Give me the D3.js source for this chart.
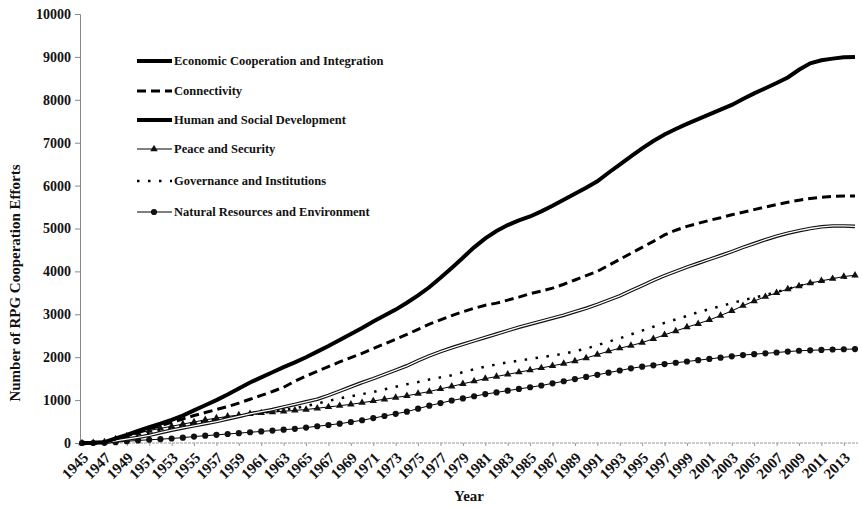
<!DOCTYPE html>
<html>
<head>
<meta charset="utf-8">
<script src="https://cdn.jsdelivr.net/npm/d3@7"></script>
<style>
  body { margin: 0; background: #fff; }
  text { font-family: "Liberation Serif", "Times New Roman", serif; font-weight: bold; fill: #111; }
</style>
</head>
<body>
<svg width="862" height="507"></svg>
<script>
// years 1945 - 2014
var years = d3.range(1945, 2015);
var yTicks = [0, 1000, 2000, 3000, 4000, 5000, 6000, 7000, 8000, 9000, 10000];

var economic = [0, 5, 20, 110, 190, 280, 370, 450, 540, 640,
  760, 880, 1000, 1130, 1270, 1410, 1530, 1650, 1770, 1880,
  2000, 2130, 2260, 2400, 2540, 2680, 2830, 2970, 3110, 3270,
  3440, 3630, 3850, 4080, 4320, 4560, 4770, 4940, 5080, 5190,
  5280, 5400, 5530, 5670, 5810, 5950, 6100, 6300, 6490, 6680,
  6870, 7040, 7190, 7320, 7440, 7550, 7660, 7770, 7880, 8020,
  8150, 8270, 8390, 8520, 8700, 8850, 8920, 8960, 8990, 9000];

var connectivity = [0, 5, 20, 100, 170, 250, 330, 400, 480, 560,
  640, 710, 780, 850, 930, 1020, 1110, 1200, 1300, 1440,
  1560, 1670, 1780, 1890, 1990, 2090, 2200, 2310, 2420, 2530,
  2650, 2770, 2870, 2970, 3060, 3140, 3210, 3260, 3330, 3400,
  3480, 3540, 3610, 3700, 3800, 3900, 4000, 4140, 4280, 4420,
  4560, 4700, 4850, 4960, 5050, 5120, 5190, 5250, 5320, 5380,
  5440, 5500, 5560, 5610, 5660, 5700, 5730, 5750, 5760, 5760];

var human = [0, 5, 15, 50, 90, 130, 180, 240, 300, 350,
  400, 450, 500, 560, 620, 680, 730, 780, 840, 900,
  960, 1020, 1110, 1210, 1310, 1410, 1500, 1600, 1700, 1800,
  1920, 2030, 2130, 2220, 2300, 2380, 2460, 2540, 2620, 2700,
  2770, 2840, 2910, 2980, 3060, 3140, 3230, 3330, 3430, 3550,
  3670, 3790, 3900, 4000, 4100, 4190, 4280, 4370, 4460, 4560,
  4650, 4740, 4820, 4890, 4950, 5000, 5040, 5060, 5060, 5050];

var peace = [0, 5, 20, 90, 160, 230, 290, 340, 390, 440,
  490, 540, 580, 620, 650, 680, 700, 720, 740, 760,
  780, 810, 840, 870, 900, 940, 980, 1020, 1060, 1100,
  1150, 1200, 1260, 1320, 1380, 1440, 1500, 1550, 1600, 1650,
  1700, 1750, 1800, 1850, 1910, 1980, 2060, 2140, 2210, 2270,
  2340, 2430, 2520, 2610, 2700, 2780, 2870, 2970, 3080, 3200,
  3310, 3410, 3500, 3590, 3660, 3730, 3780, 3830, 3880, 3910];

var governance = [0, 5, 15, 60, 120, 180, 240, 300, 360, 410,
  460, 510, 550, 590, 630, 670, 700, 730, 770, 810,
  860, 920, 980, 1040, 1090, 1140, 1190, 1250, 1310, 1370,
  1420, 1480, 1530, 1580, 1650, 1720, 1780, 1830, 1880, 1920,
  1960, 2000, 2040, 2080, 2140, 2200, 2280, 2360, 2440, 2530,
  2620, 2710, 2800, 2880, 2960, 3050, 3120, 3190, 3260, 3330,
  3390, 3450, 3520, 3590, 3660, 3720, 3770, 3820, 3850, 3870];

var natural = [0, 0, 5, 20, 40, 60, 75, 90, 105, 125,
  150, 170, 190, 210, 230, 250, 270, 290, 310, 330,
  360, 390, 420, 450, 490, 530, 580, 630, 680, 730,
  800, 870, 930, 990, 1040, 1090, 1140, 1180, 1220, 1260,
  1300, 1340, 1390, 1440, 1490, 1540, 1590, 1640, 1690, 1740,
  1780, 1810, 1840, 1870, 1900, 1930, 1960, 1990, 2020, 2050,
  2070, 2090, 2110, 2130, 2150, 2160, 2170, 2180, 2185, 2190];

var series = [
  { name: "Economic Cooperation and Integration", values: economic, style: "thick" },
  { name: "Connectivity", values: connectivity, style: "dash" },
  { name: "Human and Social Development", values: human, style: "double" },
  { name: "Peace and Security", values: peace, style: "triangle" },
  { name: "Governance and Institutions", values: governance, style: "dot" },
  { name: "Natural Resources and Environment", values: natural, style: "circle" }
];

var svg = d3.select("svg");
var plotLeft = 80, plotRight = 855, plotTop = 14, plotBottom = 443;

var x = d3.scalePoint().domain(years).range([plotLeft + 2, plotRight]);
var y = d3.scaleLinear().domain([0, 10000]).range([plotBottom, plotTop]);

// y axis
var yAxis = svg.append("g")
  .attr("transform", "translate(" + plotLeft + ",0)")
  .call(d3.axisLeft(y).tickValues(yTicks).tickSize(5).tickPadding(4).tickFormat(d3.format("d")));
yAxis.select(".domain").attr("stroke", "#888");
yAxis.selectAll(".tick line").attr("stroke", "#888");
yAxis.selectAll("text").style("font-size", "14px").attr("font-family", null);

// x axis
var xAxis = svg.append("g")
  .attr("transform", "translate(0," + plotBottom + ")")
  .call(d3.axisBottom(x).tickValues(years.filter(function(d) { return (d - 1945) % 2 == 0; })).tickSize(3).tickSizeOuter(0));
xAxis.select(".domain").attr("stroke", "#999").attr("stroke-dasharray", "3,1").attr("d", "M" + plotLeft + ",0H" + (plotRight + 3));
xAxis.selectAll(".tick line").attr("stroke", "#999");
xAxis.selectAll("text")
  .style("font-size", "15px")
  .attr("font-family", null)
  .attr("text-anchor", "end")
  .attr("y", 0)
  .attr("dy", "0.35em")
  .attr("transform", "translate(3,12) rotate(-45)");

// axis titles
svg.append("text")
  .attr("transform", "translate(20,283) rotate(-90)")
  .attr("text-anchor", "middle")
  .style("font-size", "15px")
  .text("Number of RPG Cooperation Efforts");

svg.append("text")
  .attr("x", 469).attr("y", 501)
  .attr("text-anchor", "middle")
  .style("font-size", "15px")
  .text("Year");

var line = d3.line()
  .x(function(d, i) { return x(years[i]); })
  .y(function(d) { return y(d); });

var triangle = d3.symbol().type(d3.symbolTriangle).size(24);
var circle = d3.symbol().type(d3.symbolCircle).size(30);

function drawSeries(g, s, path) {
  if (s.style == "thick") {
    g.append("path").attr("d", path).attr("fill", "none").attr("stroke", "#000").attr("stroke-width", 4);
  } else if (s.style == "dash") {
    g.append("path").attr("d", path).attr("fill", "none").attr("stroke", "#000").attr("stroke-width", 3).attr("stroke-dasharray", "9,5");
  } else if (s.style == "double") {
    g.append("path").attr("d", path).attr("fill", "none").attr("stroke", "#111").attr("stroke-width", 3.6);
    g.append("path").attr("d", path).attr("fill", "none").attr("stroke", "#fff").attr("stroke-width", 1.3);
  } else if (s.style == "dot") {
    g.append("path").attr("d", path).attr("fill", "none").attr("stroke", "#000").attr("stroke-width", 2.5).attr("stroke-dasharray", "2.5,8.5");
  } else {
    g.append("path").attr("d", path).attr("fill", "none").attr("stroke", "#000").attr("stroke-width", 1);
  }
}

// lines
series.slice().reverse().forEach(function(s) {
  var g = svg.append("g");
  drawSeries(g, s, line(s.values));
  if (s.style == "triangle" || s.style == "circle") {
    g.selectAll("path.mark")
      .data(s.values)
      .enter().append("path")
      .attr("class", "mark")
      .attr("d", s.style == "triangle" ? triangle : circle)
      .attr("transform", function(d, i) { return "translate(" + x(years[i]) + "," + y(d) + ")"; })
      .attr("fill", "#111");
  }
});

// legend
var legendY = [61, 91, 120, 149, 181, 212];
series.forEach(function(s, i) {
  var g = svg.append("g").attr("transform", "translate(137," + legendY[i] + ")");
  var st = s.style == "double" ? "thick" : s.style;
  drawSeries(g, { style: st }, "M0,0H35");
  if (s.style == "triangle") g.append("path").attr("d", triangle).attr("transform", "translate(17,0)").attr("fill", "#111");
  if (s.style == "circle") g.append("path").attr("d", circle).attr("transform", "translate(17,0)").attr("fill", "#111");
  g.append("text").attr("x", 37).attr("y", 0).attr("dy", "0.35em")
    .style("font-size", "12.5px")
    .text(s.name);
});
</script>
</body>
</html>
